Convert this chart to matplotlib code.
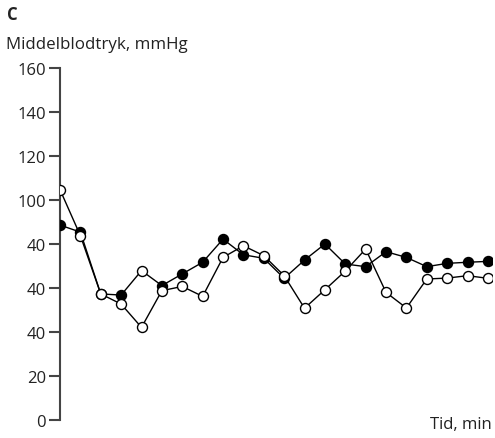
import numpy as np
import matplotlib.pyplot as plt

plt.rcParams['font.family'] = ['Open Sans', 'DejaVu Sans']

# Middelblodtryk (mmHg) over tid, to serier
filled = [88.6, 85.4, 57.3, 56.8, 67.9, 61.1, 66.4, 71.7, 82.2, 75.1, 73.5,
          64.4, 72.7, 80.0, 70.9, 69.7, 76.5, 73.9, 69.7, 71.2, 71.7, 72.1]
hollow = [104.7, 83.8, 57.3, 52.7, 42.1, 58.8, 60.7, 56.2, 73.9, 79.2, 74.7,
          65.6, 50.8, 59.2, 67.7, 77.7, 58.0, 50.9, 64.1, 64.5, 65.6, 64.4]
hollow_in_filled = [4]  # punkt i den fyldte serie der er tegnet åbent
yticks = [0, 20, 40, 60, 80, 100, 120, 140, 160]
ytick_labels = ['0', '20', '40', '40', '40', '100', '120', '140', '160']

x = np.arange(len(filled))

fig = plt.figure(figsize=(4.95, 4.39), dpi=100)
ax = fig.add_axes([60 / 495, 18 / 439, 432 / 495, 352 / 439])

keep = [i for i in x if i not in hollow_in_filled]
ax.plot(x, filled, color='black', lw=1.0, zorder=2)
ax.plot(x[keep], np.array(filled)[keep], 'o', ms=7.2, mfc='black', mec='black', mew=1.0, zorder=3)
ax.plot(x[hollow_in_filled], np.array(filled)[hollow_in_filled], 'o', ms=7.2,
        mfc='white', mec='black', mew=1.0, zorder=3)
ax.plot(x, hollow, color='black', lw=1.0, marker='o', ms=7.2, mfc='white',
        mec='black', mew=1.0, zorder=4)

ax.set_xlim(0, 21.2)
ax.set_ylim(0, 160)
ax.set_yticks(yticks)
ax.set_yticklabels(ytick_labels)
ax.set_xticks([])
for s in ['top', 'right', 'bottom']:
    ax.spines[s].set_visible(False)
ax.spines['left'].set_color('#444444')
ax.spines['left'].set_linewidth(1.5)
ax.spines['left'].set_zorder(1)
ax.tick_params(axis='y', direction='out', length=8, width=1.5, color='#444444',
               labelsize=12, pad=2, labelcolor='#222222')
for lbl in ax.get_yticklabels():
    lbl.set_clip_on(False)

fig.text(7 / 495, 1 - 15 / 439, 'C', fontsize=12, fontweight='bold', va='center', ha='left', color='#222222')
fig.text(6 / 495, 1 - 45 / 439, 'Middelblodtryk, mmHg', fontsize=12.2, va='center', ha='left', color='#222222')
fig.text(492 / 495, 1 - 425 / 439, 'Tid, min', fontsize=12, va='center', ha='right', color='#222222')

fig.savefig('out.png', dpi=100)
